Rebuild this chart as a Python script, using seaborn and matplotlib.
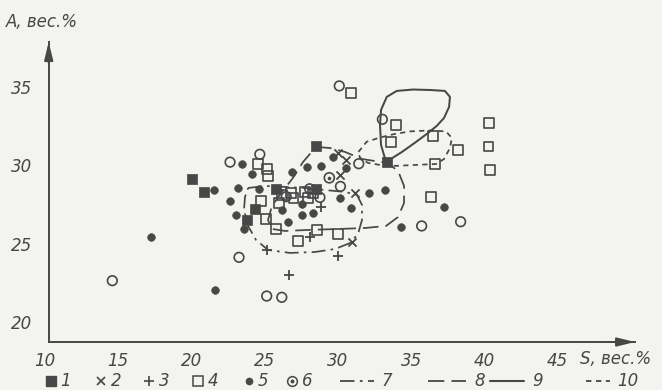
import matplotlib
matplotlib.use("Agg")
import matplotlib.pyplot as plt
import matplotlib.transforms as mtransforms
from matplotlib.lines import Line2D
import seaborn as sns

# ---------------- data: S (x) and A (y), wt.% ----------------
# 1 - filled squares
s1_x = [19.8, 20.6, 23.5, 24.1, 25.5, 28.2, 28.2, 33.05]
s1_y = [29.1, 28.3, 26.5, 27.2, 28.5, 31.2, 28.5, 30.2]
# 2 - crosses (x)
s2_x = [29.7, 30.3, 29.85, 30.9, 30.7]
s2_y = [30.8, 30.35, 29.4, 28.2, 25.1]
# 3 - plus signs
s3_x = [28.6, 27.8, 24.9, 29.75, 26.4]
s3_y = [27.35, 25.4, 24.6, 24.2, 23.0]
# 4 - open squares
s4_x = [24.3, 24.9, 24.94, 24.5, 25.9, 26.5, 25.7, 27.5, 28.05, 27.7, 26.7, 24.8, 25.5,
        27.0, 28.3, 29.75, 30.6, 33.7, 33.35, 36.2, 37.9, 36.35, 40.05, 40.0, 40.1, 36.1]
s4_y = [30.1, 29.75, 29.3, 27.7, 28.1, 28.25, 27.6, 28.3, 28.2, 27.9, 27.9, 26.55, 25.95,
        25.15, 25.85, 25.6, 34.6, 32.55, 31.5, 31.85, 30.95, 30.1, 32.7, 31.2, 29.7, 28.0]
# 5 - filled dots
s5_x = [16.98, 21.37, 21.3, 22.37, 22.8, 23.3, 22.9, 23.16, 23.85, 24.37, 26.6, 27.6, 28.55,
        29.4, 30.25, 29.87, 30.6, 31.87, 32.94, 34.05, 36.98, 25.9, 27.3, 28.05, 27.3, 26.35]
s5_y = [25.45, 22.05, 28.42, 27.72, 26.8, 25.94, 28.57, 30.08, 29.43, 28.47, 29.55, 29.9, 29.95,
        30.55, 29.8, 27.9, 27.25, 28.25, 28.42, 26.05, 27.36, 27.15, 27.55, 26.95, 26.8, 26.4]
# 6 - circle with centre dot
s6_x = [29.14]
s6_y = [29.2]
# plain open circles
oc_x = [22.37, 24.4, 22.98, 14.34, 24.87, 25.9, 29.82, 32.76, 31.15, 29.9, 26.2, 27.8,
        38.1, 35.44, 28.5]
oc_y = [30.2, 30.7, 24.13, 22.64, 21.66, 21.58, 35.06, 32.93, 30.1, 28.65, 28.0, 28.5,
        26.4, 26.13, 27.95]

# field outlines 7-10
c7_x = [23.6, 24.76, 26.12, 27.48, 28.85, 30.21, 31.03, 31.37, 31.37, 31.1, 30.55, 29.53,
        28.16, 26.46, 24.96, 24.14, 23.6, 23.32, 23.39]
c7_y = [28.55, 28.68, 28.62, 28.55, 28.42, 28.3, 28.11, 27.47, 26.51, 25.62, 25.04, 24.66,
        24.47, 24.41, 24.6, 25.24, 26.13, 27.15, 27.98]
c8_x = [28.23, 29.19, 30.21, 31.37, 33.08, 33.83, 34.24, 34.24, 33.83, 33.01, 31.58, 29.87,
        27.82, 26.12, 25.23, 24.96, 25.23, 25.91, 26.66, 27.35]
c8_y = [31.17, 31.1, 30.85, 30.4, 30.15, 29.64, 28.68, 27.6, 26.7, 26.13, 26.0, 25.94,
        25.88, 25.81, 25.94, 26.51, 27.4, 28.3, 29.19, 30.21]
c9_x = [33.01, 32.67, 32.6, 32.67, 33.06, 33.74, 34.85, 36.01, 37.03, 37.37, 37.31, 36.97,
        36.47, 35.88, 35.06, 34.10]
c9_y = [30.21, 31.29, 32.57, 33.53, 34.36, 34.74, 34.83, 34.8, 34.74, 34.36, 33.72, 33.02,
        32.51, 32.06, 31.49, 30.85]
c10_x = [31.13, 31.69, 32.6, 33.62, 34.65, 36.01, 37.1, 37.5, 37.37, 36.97, 36.42, 34.99,
         33.69, 32.6, 31.78, 31.23]
c10_y = [30.85, 31.5, 31.77, 32.0, 32.16, 32.22, 32.16, 31.74, 31.1, 30.4, 30.08, 30.02,
         29.96, 30.02, 30.15, 30.47]

x_ticks = [10, 15, 20, 25, 30, 35, 40, 45]
y_ticks = [20, 25, 30, 35]
y_label = "А, вес.%"
x_label = "S, вес.%"
legend_labels = ["1", "2", "3", "4", "5", "6", "7", "8", "9", "10"]

# ---------------- style ----------------
sns.set_theme(style="white")
INK = "#474747"
BG = "#f3f3f0"
plt.rcParams["font.family"] = ["DejaVu Sans"]
TXT = dict(color=INK, fontsize=12, fontstyle="italic")

LS7 = (0, (8, 3, 1.5, 3))
LS8 = (0, (9, 4))
LS10 = (0, (3, 2.5))

fig = plt.figure(figsize=(6.62, 3.9), dpi=100, facecolor=BG)
ax = fig.add_axes([48.7 / 662, 48 / 390, 586.4 / 662, 300 / 390])
ax.set_facecolor(BG)
ax.set_xlim(10, 50)
ax.set_ylim(18.73, 37.86)

# field outlines
def closed(xs, ys):
    return list(xs) + [xs[0]], list(ys) + [ys[0]]

for cx, cy, ls, lw in [(c7_x, c7_y, LS7, 1.25), (c8_x, c8_y, LS8, 1.25),
                       (c9_x, c9_y, "-", 1.45), (c10_x, c10_y, LS10, 1.25)]:
    px, py = closed(cx, cy)
    ax.plot(px, py, color=INK, lw=lw, linestyle=ls, zorder=2)

# point groups
sns.scatterplot(x=s5_x, y=s5_y, marker="o", s=30, color=INK, edgecolor=INK, linewidth=0.5, ax=ax, zorder=3)
sns.scatterplot(x=s1_x, y=s1_y, marker="s", s=55, color=INK, edgecolor=INK, linewidth=0.5, ax=ax, zorder=3)
sns.scatterplot(x=s4_x, y=s4_y, marker="s", s=50, facecolor="none", edgecolor=INK, linewidth=1.2, ax=ax, zorder=3)
sns.scatterplot(x=oc_x, y=oc_y, marker="o", s=48, facecolor="none", edgecolor=INK, linewidth=1.2, ax=ax, zorder=3)
sns.scatterplot(x=s6_x, y=s6_y, marker="o", s=52, facecolor="none", edgecolor=INK, linewidth=1.2, ax=ax, zorder=3)
sns.scatterplot(x=s6_x, y=s6_y, marker="o", s=7, color=INK, edgecolor=INK, linewidth=0, ax=ax, zorder=3)
sns.scatterplot(x=s2_x, y=s2_y, marker="x", s=34, color=INK, linewidth=1.3, ax=ax, zorder=3)
sns.scatterplot(x=s3_x, y=s3_y, marker="+", s=56, color=INK, linewidth=1.3, ax=ax, zorder=3)

# axes with arrows
sns.despine(ax=ax)
for side in ("left", "bottom"):
    ax.spines[side].set_color(INK)
    ax.spines[side].set_linewidth(1.4)
arrow = dict(arrowstyle="-|>,head_length=0.9,head_width=0.22", color=INK, lw=1.4,
             mutation_scale=12, shrinkA=0, shrinkB=0)
ax.annotate("", xy=(0, 1), xytext=(0, 0.93), xycoords="axes fraction", arrowprops=arrow,
            annotation_clip=False)
ax.annotate("", xy=(1, 0), xytext=(0.95, 0), xycoords="axes fraction", arrowprops=arrow,
            annotation_clip=False)

ax.set_xticks(x_ticks)
ax.set_yticks(y_ticks)
ax.set_xticklabels([str(t) for t in x_ticks])
ax.set_yticklabels([str(t) for t in y_ticks])
ax.tick_params(direction="in", length=6, width=1.2, color=INK, labelcolor=INK)
ax.tick_params(axis="x", pad=7)
ax.tick_params(axis="y", pad=12)
shift = mtransforms.ScaledTranslation(-4 / 100, 0, fig.dpi_scale_trans)
for lab in ax.get_xticklabels():
    lab.set_fontstyle("italic")
    lab.set_fontsize(12)
    lab.set_transform(lab.get_transform() + shift)
for lab in ax.get_yticklabels():
    lab.set_fontstyle("italic")
    lab.set_fontsize(12)
ax.grid(False)

# axis captions
fig.text(6 / 662, 1 - 22 / 390, y_label, ha="left", va="center", **TXT)
fig.text(580 / 662, 1 - 359 / 390, x_label, ha="left", va="center", **TXT)

# legend row
LY = 1 - 381 / 390

def fx(p):
    return p / 662

def marker_key(xp, **kw):
    fig.add_artist(Line2D([fx(xp)], [LY], transform=fig.transFigure, linestyle="none", **kw))

def line_key(x0, x1, ls, lw=1.3):
    fig.add_artist(Line2D([fx(x0), fx(x1)], [LY, LY], transform=fig.transFigure,
                          color=INK, lw=lw, linestyle=ls))

marker_key(51, marker="s", markersize=6.5, color=INK)
marker_key(101, marker="x", markersize=5.5, color=INK, markeredgewidth=1.2)
marker_key(149, marker="+", markersize=7, color=INK, markeredgewidth=1.2)
marker_key(198, marker="s", markersize=6.5, markerfacecolor="none", markeredgecolor=INK, markeredgewidth=1.1)
marker_key(249, marker="o", markersize=4.5, color=INK)
marker_key(292, marker="o", markersize=7, markerfacecolor="none", markeredgecolor=INK, markeredgewidth=1.1)
marker_key(292, marker="o", markersize=1.8, color=INK)
line_key(340, 374, LS7)
line_key(428, 466, LS8)
line_key(490, 524, "-", 1.5)
line_key(586, 610, LS10)

label_pos = [60, 111, 159, 208, 258, 302, 381, 474, 532, 617]
for xp, lab in zip(label_pos, legend_labels):
    fig.text(fx(xp), LY, lab, ha="left", va="center", **TXT)

fig.savefig("out.png", dpi=100, facecolor=BG)
